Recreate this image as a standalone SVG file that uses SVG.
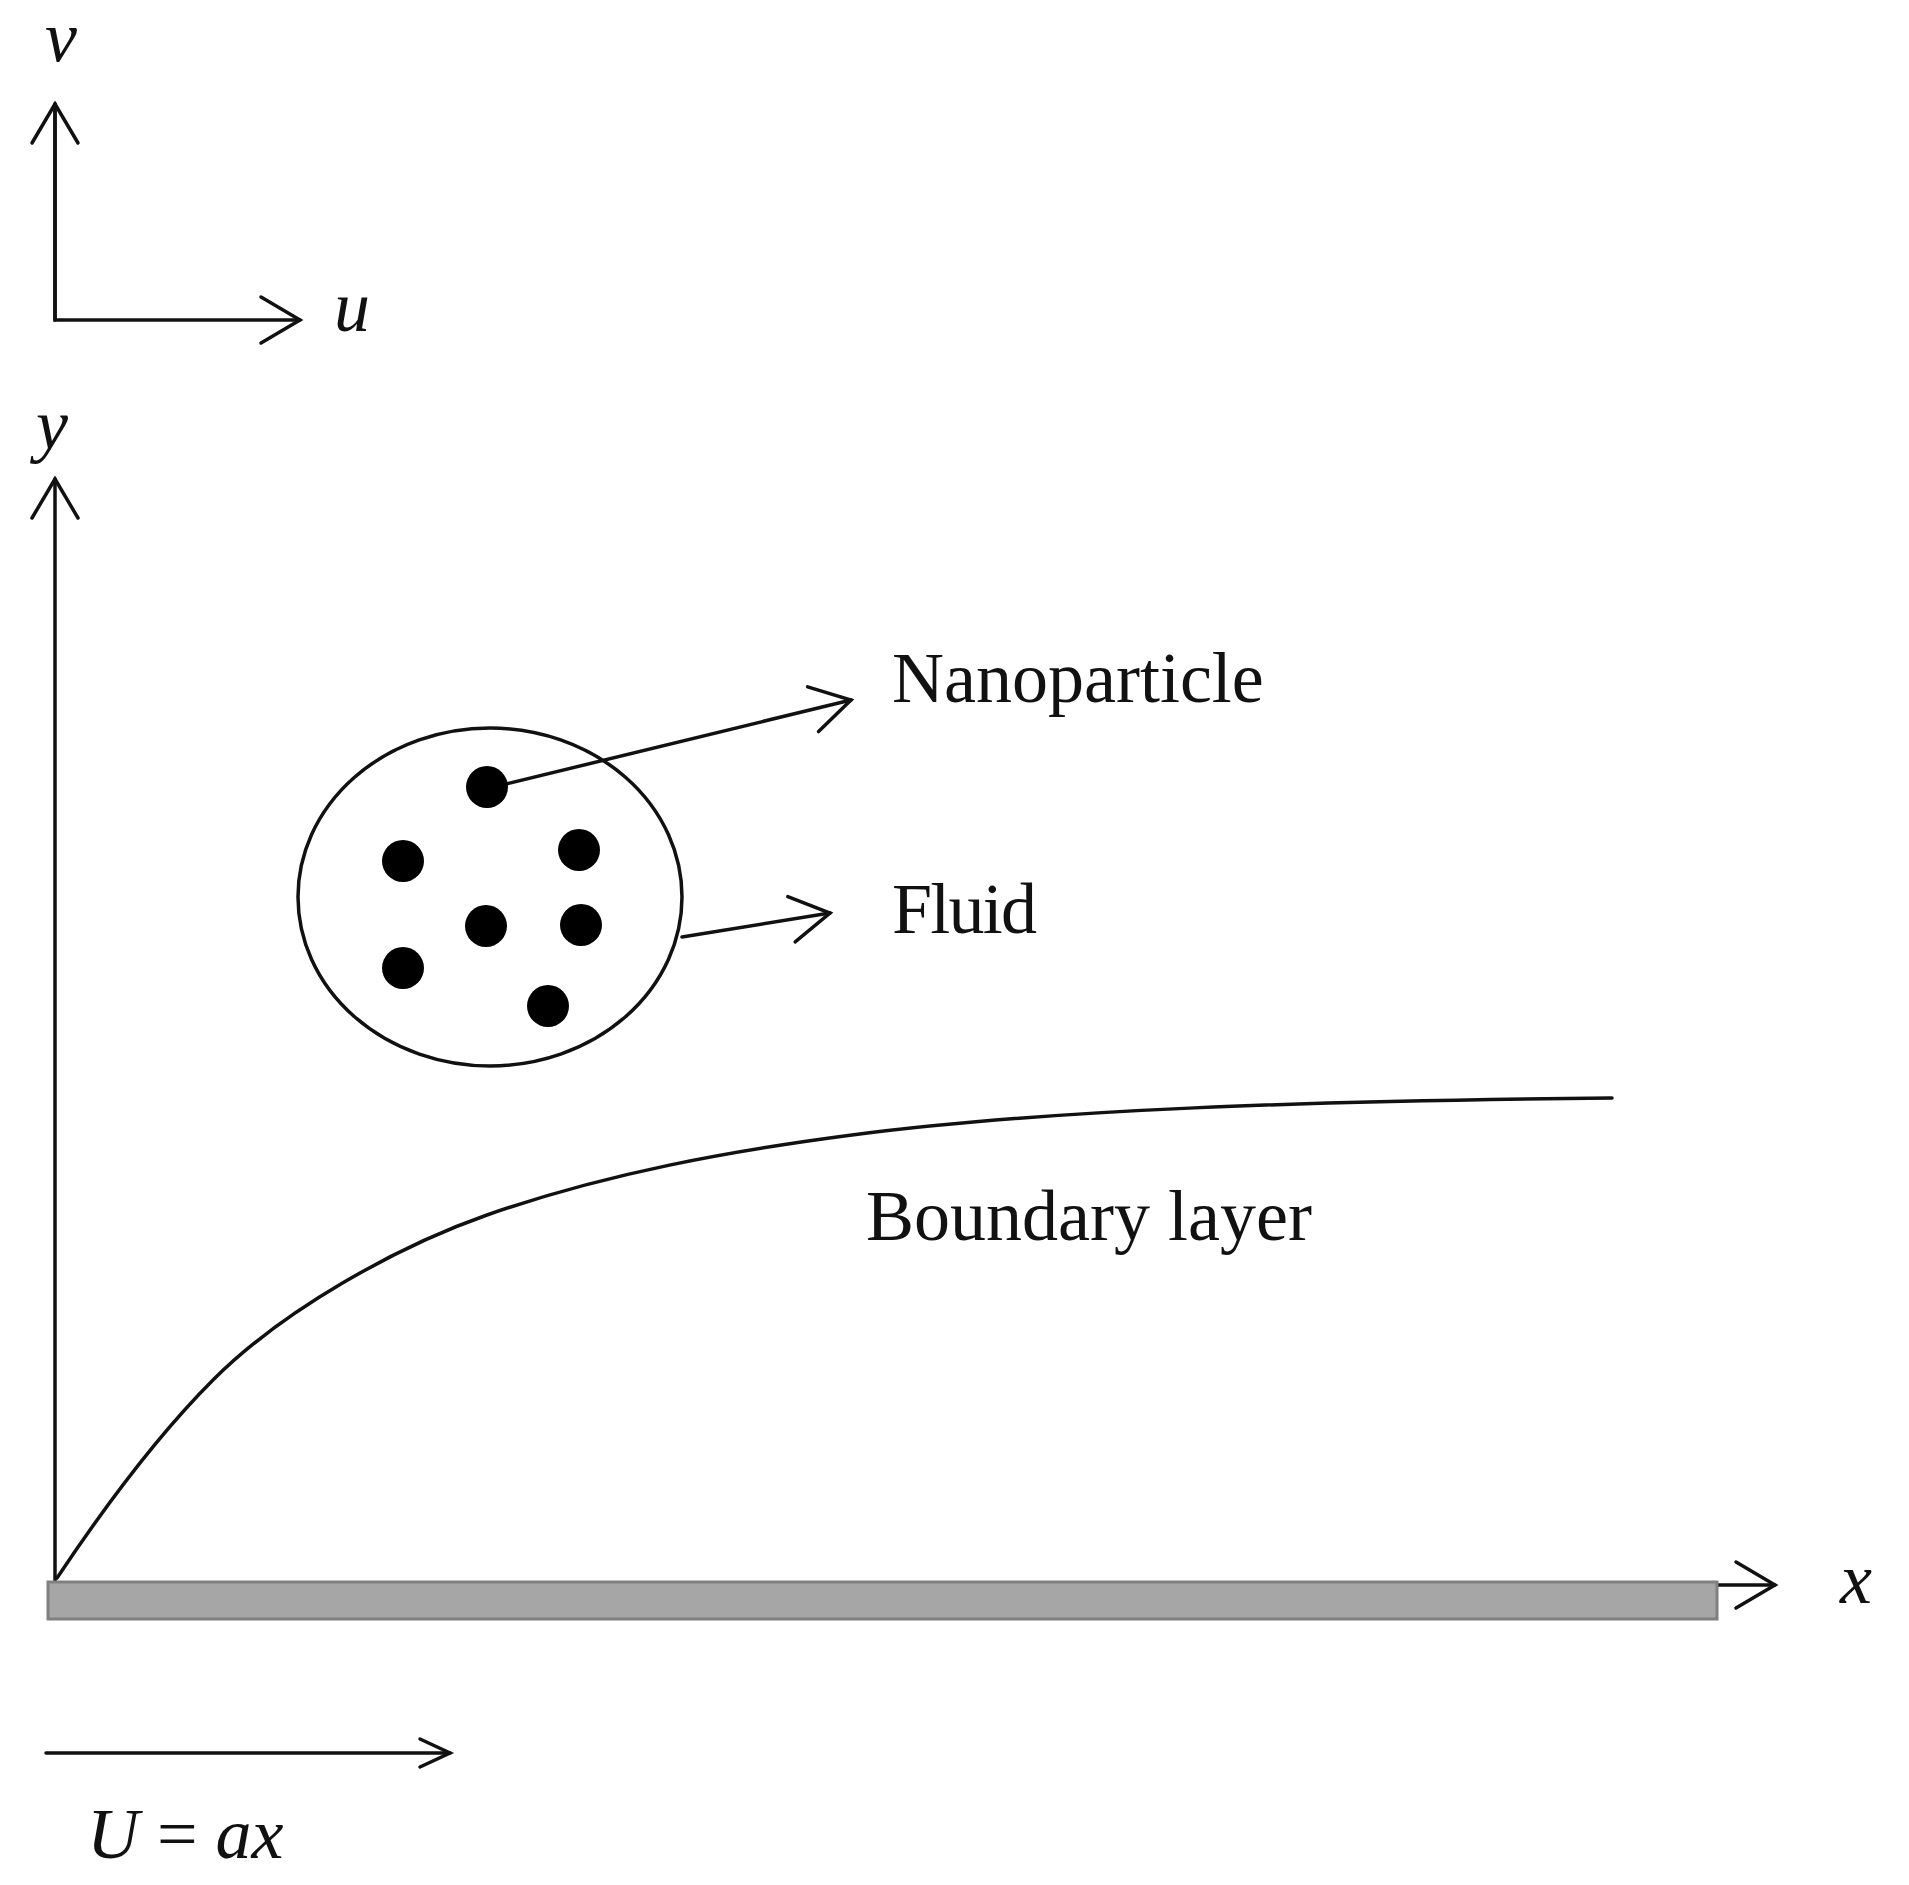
<svg xmlns="http://www.w3.org/2000/svg" width="1909" height="1885" viewBox="0 0 1909 1885">
<defs>
<style>
.ln{fill:none;stroke:#111;stroke-width:3.5;stroke-linecap:round}
.lbl{font-family:"Liberation Serif","Times New Roman",serif;font-size:72px;fill:#111}
.it{font-style:italic}
.dot{fill:#000}
</style>
<marker id="arr" markerUnits="userSpaceOnUse" markerWidth="60" markerHeight="60" viewBox="-45 -30 50 60" refX="0" refY="0" orient="auto">
<path d="M-39,-23 L0,0 L-39,23" fill="none" stroke="#111" stroke-width="3.5" stroke-linejoin="miter" stroke-linecap="round"/>
</marker>
<marker id="arrS" markerUnits="userSpaceOnUse" markerWidth="40" markerHeight="40" viewBox="-35 -20 40 40" refX="0" refY="0" orient="auto">
<path d="M-30,-14 L0,0 L-30,14" fill="none" stroke="#111" stroke-width="3.5" stroke-linecap="round"/>
</marker>
</defs>
<rect width="1909" height="1885" fill="#fff"/>

<g id="velocity-axes">
<path class="ln" d="M55,104 L55,320 L300,320" marker-end="url(#arr)"/>
<path class="ln" d="M55,320 L55,104" marker-end="url(#arr)"/>
<text class="lbl it" x="45" y="61">v</text>
<text class="lbl it" x="334" y="331">u</text>
</g>

<g id="connectors">
<line class="ln" x1="55" y1="1582" x2="55" y2="479" marker-end="url(#arr)"/>
<line class="ln" x1="55" y1="1585" x2="1775" y2="1585" marker-end="url(#arr)"/>
<line class="ln" x1="506" y1="784" x2="851" y2="700" marker-end="url(#arr)"/>
<line class="ln" x1="682" y1="937" x2="830" y2="913" marker-end="url(#arr)"/>
<line class="ln" x1="46" y1="1753" x2="450" y2="1753" marker-end="url(#arrS)"/>
</g>

<g id="plate">
<rect x="48" y="1582" width="1669" height="37" fill="#a6a6a6" stroke="#808080" stroke-width="3"/>
</g>

<g id="boundary-layer">
<path class="ln" d="M57,1578 C107,1503 163,1430 213,1380 C283,1310 397,1246.5 487,1215 C607,1173 732,1150.6 852,1135 C1052,1109 1312,1101 1612,1098"/>
<text class="lbl" x="866" y="1240">Boundary layer</text>
</g>

<g id="fluid-parcel">
<ellipse cx="490" cy="897" rx="192" ry="169" fill="none" stroke="#111" stroke-width="3.5"/>
<circle class="dot" cx="487" cy="787" r="21"/>
<circle class="dot" cx="403" cy="861" r="21"/>
<circle class="dot" cx="579" cy="850" r="21"/>
<circle class="dot" cx="486" cy="926" r="21"/>
<circle class="dot" cx="581" cy="925" r="21"/>
<circle class="dot" cx="403" cy="968" r="21"/>
<circle class="dot" cx="548" cy="1006" r="21"/>
</g>

<g id="nanoparticle-label">
<text class="lbl" x="892" y="702">Nanoparticle</text>
</g>
<g id="fluid-label">
<text class="lbl" x="892" y="933" textLength="145">Fluid</text>
</g>

<g id="axis-labels">
<text class="lbl it" x="36" y="449">y</text>
<text class="lbl it" x="1840" y="1603">x</text>
<text class="lbl" x="87" y="1858"><tspan class="it">U</tspan> = <tspan class="it">ax</tspan></text>
</g>
</svg>
